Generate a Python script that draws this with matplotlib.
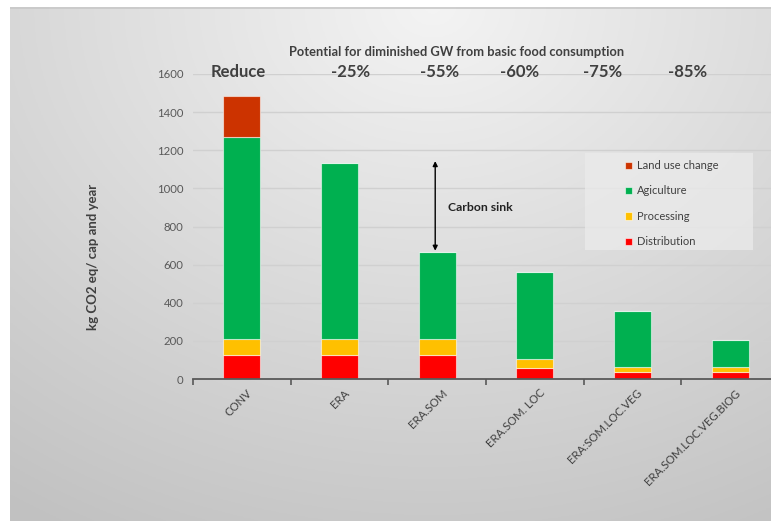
import numpy as np
import matplotlib
matplotlib.use("Agg")
import matplotlib.pyplot as plt
from matplotlib.patches import Rectangle
from matplotlib.transforms import ScaledTranslation

plt.rcParams['font.family'] = ['Lato', 'DejaVu Sans']

# scenarios and emission parts (kg CO2 eq per capita and year)
scenarios = ['CONV', 'ERA', 'ERA.SOM', 'ERA.SOM. LOC', 'ERA:SOM.LOC.VEG', 'ERA.SOM.LOC.VEG.BIOG']
distribution = [125, 125, 125, 60, 38, 38]
processing = [85, 85, 85, 43, 26, 26]
agriculture = [1060, 925, 455, 460, 293, 141]
land_use = [215, 0, 0, 0, 0, 0]

reduction_labels = ['Reduce', '-25%', '-55%', '-60%', '-75%', '-85%']
reduction_x = [-0.04, 1.11, 2.02, 2.84, 3.69, 4.56]

parts = [
    ('Distribution', distribution, '#FF0000'),
    ('Processing', processing, '#FFC000'),
    ('Agiculture', agriculture, '#00B050'),
    ('Land use change', land_use, '#CC3300'),
]

W, H = 771, 521
fig = plt.figure(figsize=(W / 100, H / 100), dpi=100)
fig.patch.set_facecolor('white')

# grey gradient panel behind the chart
bg = fig.add_axes([10 / W, -0.01, 1 - 10 / W + 0.01, 1 - 7 / H + 0.01])
xx, yy = np.meshgrid(np.linspace(0, 1, 300), np.linspace(0, 1, 200))
r = np.sqrt(((xx - 0.55) / 0.85) ** 2 + yy ** 2)
shade = np.clip(0.955 - 0.17 * r, 0.76, 1)
bg.imshow(np.dstack([shade] * 3), aspect='auto', extent=(0, 1, 1, 0))
bg.set_xticks([])
bg.set_yticks([])
for s in bg.spines.values():
    s.set_visible(False)
bg.axhline(0.0015, color='#c8c8c8', lw=1.2)

ax = fig.add_axes([193 / W, 1 - 379 / H, (779 - 193) / W, (379 - 74) / H])
ax.patch.set_alpha(0)

x = np.arange(len(scenarios))
bottom = np.zeros(len(scenarios))
handles = {}
for name, vals, color in parts:
    vals = np.array(vals, dtype=float)
    b = ax.bar(x, vals, width=0.38, bottom=bottom, color=color,
               edgecolor=(1, 1, 1, 0.55), linewidth=0.8, zorder=3)
    handles[name] = b
    bottom += vals
totals = bottom

ax.set_xlim(-0.5, len(scenarios) - 0.5)
ax.set_ylim(0, 1600)
ax.set_yticks(range(0, 1601, 200))
ax.yaxis.grid(True, color='#d0d0d0', lw=1, zorder=0)
ax.set_axisbelow(True)
for side in ['left', 'right', 'top']:
    ax.spines[side].set_visible(False)
ax.spines['bottom'].set_color('#595959')
ax.spines['bottom'].set_linewidth(1.3)
ax.spines['bottom'].set_zorder(4)
ax.tick_params(axis='y', length=0, pad=7, labelsize=8.2, labelcolor='#595959')

ax.set_xticks(x)
ax.set_xticklabels(scenarios, rotation=45, ha='right', rotation_mode='anchor',
                   fontsize=8.2, color='#404040')
ax.tick_params(axis='x', which='major', length=0, pad=6)
ax.set_xticks(np.arange(-0.5, len(scenarios), 1), minor=True)
ax.tick_params(axis='x', which='minor', length=4, color='#595959', width=1.2)
for lbl in ax.get_xticklabels():
    lbl.set_transform(lbl.get_transform() + ScaledTranslation(3 / 72, 0, fig.dpi_scale_trans))

ax.set_ylabel('kg CO2 eq/ cap and year', fontsize=9.5, fontweight='bold', color='#404040', labelpad=0)
ax.yaxis.set_label_coords(-0.16, 0.40)

# headline and reduction percentages
ax.text(2.2, 1713, 'Potential for diminished GW from basic food consumption',
        ha='center', va='center', fontsize=9.3, fontweight='bold', color='#404040')
for xl, txt in zip(reduction_x, reduction_labels):
    ax.text(xl, 1608, txt, ha='center', va='center', fontsize=12,
            fontweight='bold', color='#404040', zorder=5)

# carbon sink arrow between ERA and ERA.SOM totals
ax.annotate('', xy=(1.98, totals[2] + 8), xytext=(1.98, totals[1] + 8),
            arrowprops=dict(arrowstyle='<|-|>', color='black', lw=1,
                            mutation_scale=7, shrinkA=0, shrinkB=0), zorder=5)
ax.text(2.11, (totals[1] + totals[2]) / 2 + 2, 'Carbon sink', ha='left', va='center',
        fontsize=8.8, fontweight='bold', color='#222222')

# legend on a pale box
ax.add_patch(Rectangle((585 / W, 1 - 250 / H), 168 / W, 97 / H,
                       transform=fig.transFigure, facecolor='#ebebeb',
                       alpha=0.75, edgecolor='none', zorder=6, clip_on=False))
order = ['Land use change', 'Agiculture', 'Processing', 'Distribution']
leg = ax.legend([handles[n] for n in order], order, loc='upper left',
                bbox_to_anchor=(615 / W, 1 - 150 / H), bbox_transform=fig.transFigure,
                frameon=False, fontsize=8, handlelength=0.6, handleheight=0.6,
                handletextpad=0.5, labelspacing=1.3, borderpad=0.4)
leg.set_zorder(7)
for t in leg.get_texts():
    t.set_color('#404040')

fig.savefig('out.png', dpi=100)
